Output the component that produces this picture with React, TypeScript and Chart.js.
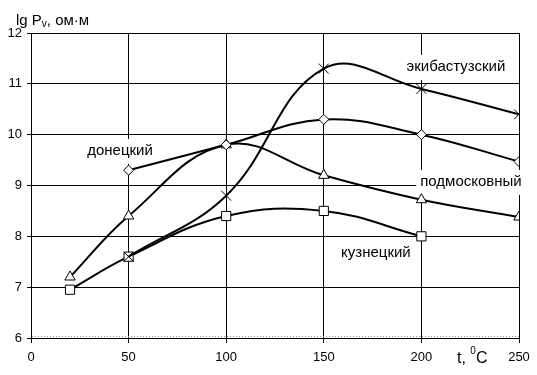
import React, { useEffect, useRef } from "react";
import { Chart, registerables } from "chart.js";
Chart.register(...registerables);

const ekibX = [50, 100, 150, 200, 250];
const ekibY = [7.6, 8.8, 11.3, 10.9, 10.4];
const donX = [50, 100, 150, 200, 250];
const donY = [9.3, 9.8, 10.3, 10.0, 9.47];
const podX = [20, 50, 100, 150, 200, 250];
const podY = [7.2, 8.4, 9.8, 9.2, 8.72, 8.38];
const kuzX = [20, 50, 100, 150, 200];
const kuzY = [6.95, 7.6, 8.4, 8.5, 8.0];

const xTicks = [0, 50, 100, 150, 200, 250];
const yTicks = [6, 7, 8, 9, 10, 11, 12];

const seriesLabels = [
  { text: "донецкий", x: 45.6, y: 9.68 },
  { text: "экибастузский", x: 217.7, y: 11.33 },
  { text: "подмосковный", x: 225.4, y: 9.07 },
  { text: "кузнецкий", x: 176.7, y: 7.68 },
];

const FONT = "'Liberation Sans', Arial, sans-serif";

const toPts = (xs: number[], ys: number[]) => xs.map((x, i) => ({ x, y: ys[i] }));

export default function App() {
  const ref = useRef<HTMLCanvasElement | null>(null);
  useEffect(() => {
    if (!ref.current) return;
    const mk = (label: string, xs: number[], ys: number[], style: string, r: number) => ({
      label,
      data: toPts(xs, ys),
      borderColor: "#000",
      borderWidth: 2,
      tension: 0.4,
      pointStyle: style,
      pointRadius: r,
      pointBackgroundColor: "#fff",
      pointBorderColor: "#000",
      pointBorderWidth: 1,
      fill: false,
    });
    const textPlugin = {
      id: "texts",
      beforeDatasetsDraw(chart: any) {
        const ctx = chart.ctx;
        const a = chart.chartArea;
        const xs = chart.scales.x;
        const ys = chart.scales.y;
        ctx.save();
        // dotted line just above the bottom axis
        ctx.strokeStyle = "#999";
        ctx.lineWidth = 1;
        ctx.setLineDash([1, 2]);
        ctx.beginPath();
        ctx.moveTo(a.left + 1, a.bottom - 1.5);
        ctx.lineTo(a.right, a.bottom - 1.5);
        ctx.stroke();
        ctx.setLineDash([]);
        // series labels with white boxes over the grid
        ctx.font = `15px ${FONT}`;
        ctx.textBaseline = "middle";
        ctx.textAlign = "center";
        for (const l of seriesLabels) {
          const px = xs.getPixelForValue(l.x);
          const py = ys.getPixelForValue(l.y);
          const w = ctx.measureText(l.text).width;
          ctx.fillStyle = "#fff";
          ctx.fillRect(px - w / 2 - 4, py - 12, w + 8, 25);
          ctx.fillStyle = "#000";
          ctx.fillText(l.text, px, py);
        }
        // axis titles
        ctx.textAlign = "left";
        ctx.textBaseline = "alphabetic";
        ctx.font = `15px ${FONT}`;
        let x = 16;
        const by = 25;
        ctx.fillText("lg P", x, by);
        x += ctx.measureText("lg P").width;
        ctx.font = `10px ${FONT}`;
        ctx.fillText("v", x, by + 2);
        x += ctx.measureText("v").width;
        ctx.font = `15px ${FONT}`;
        ctx.fillText(", ом·м", x, by);
        ctx.font = `16px ${FONT}`;
        let tx = 457;
        const ty = 363;
        ctx.fillText("t, ", tx, ty);
        tx += ctx.measureText("t, ").width;
        ctx.font = `10px ${FONT}`;
        ctx.fillText("0", tx, ty - 9);
        tx += ctx.measureText("0").width;
        ctx.font = `16px ${FONT}`;
        ctx.fillText("C", tx, ty);
        ctx.restore();
      },
    };
    const chart = new Chart(ref.current, {
      type: "line",
      data: {
        datasets: [
          mk("экибастузский", ekibX, ekibY, "crossRot", 7),
          mk("донецкий", donX, donY, "rectRot", 5),
          mk("подмосковный", podX, podY, "triangle", 6),
          mk("кузнецкий", kuzX, kuzY, "rect", 6.5),
        ] as any,
      },
      options: {
        animation: false,
        responsive: false,
        layout: { padding: { top: 33, right: 18, left: 0, bottom: 0 } },
        plugins: { legend: { display: false }, tooltip: { enabled: false } },
        scales: {
          x: {
            type: "linear",
            min: 0,
            max: 250,
            afterFit: (s: any) => { s.height = 37; },
            afterBuildTicks: (s: any) => { s.ticks = xTicks.map((v) => ({ value: v })); },
            grid: { color: "#000", lineWidth: 1, tickLength: 5, drawTicks: true },
            border: { color: "#000", width: 1 },
            ticks: { color: "#000", font: { family: FONT, size: 13 }, padding: 7 },
          },
          y: {
            type: "linear",
            min: 6,
            max: 12,
            afterFit: (s: any) => { s.width = 31; },
            afterBuildTicks: (s: any) => { s.ticks = yTicks.map((v) => ({ value: v })); },
            grid: { color: "#000", lineWidth: 1, tickLength: 4, drawTicks: true },
            border: { color: "#000", width: 1 },
            ticks: { color: "#000", font: { family: FONT, size: 13 }, padding: 5 },
          },
        },
      } as any,
      plugins: [textPlugin],
    });
    return () => chart.destroy();
  }, []);
  return (
    <div style={{ position: "fixed", left: 0, top: 0, width: 537, height: 375, background: "#fff" }}>
      <canvas ref={ref} width={537} height={375} style={{ width: 537, height: 375 }} />
    </div>
  );
}
